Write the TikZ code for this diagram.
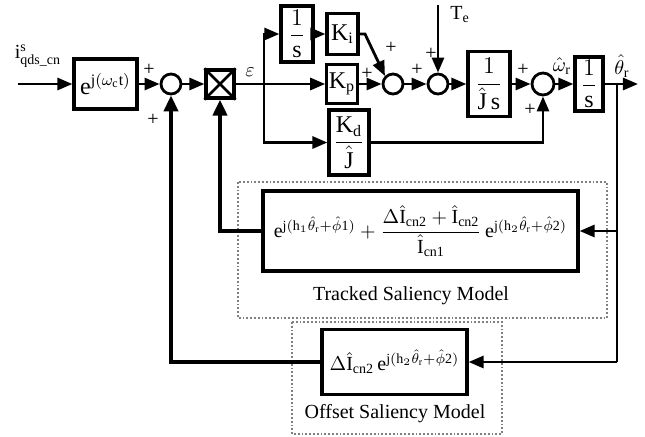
\documentclass[tikz,border=0pt]{standalone}
\usepackage{amsmath}
\usepackage{fontspec}
\setmainfont{Liberation Serif}
\setmathrm{Liberation Serif}
\usetikzlibrary{arrows.meta, positioning}
\tikzset{
  block/.style={draw, line width=1.6pt, inner sep=1pt, font=\large},
  sumnode/.style={circle, draw, line width=1.4pt, minimum size=10pt, inner sep=0pt},
  multnode/.style={draw, line width=1.6pt, minimum size=14pt, inner sep=0pt},
  line/.style={line width=1.4pt},
  sig/.style={line width=1.4pt, -{Triangle[length=7.5pt,width=6pt]}},
  fbline/.style={line width=2.4pt},
  fbsig/.style={line width=2.4pt, -{Triangle[length=8pt,width=7pt]}},
  group/.style={draw=gray, densely dotted, line width=0.9pt},
  sign/.style={font=\normalsize, inner sep=0pt}
}
\begin{document}
\begin{tikzpicture}[x=0.5pt, y=-0.5pt]
    \useasboundingbox (0,0) rectangle (645,436);

    % Forward path
    \coordinate (in) at (18,84);
    \node (rot) [block, minimum width=31.5pt, minimum height=25pt] at (105.5,84) {$\mathrm{e}^{\mathrm{j}(\omega_{\mathrm{c}}\mathrm{t})}$};
    \node (sum1) [sumnode] at (171,84) {};
    \node (mult) [multnode] at (220,84) {};
    \coordinate (split) at (264,84);
    \node (integ) [block, minimum width=16pt, minimum height=28pt] at (297,34) {$\dfrac{1}{\mathrm{s}}$};
    \node (ki) [block, minimum width=15.5pt, minimum height=20.5pt] at (342.5,34) {$\mathrm{K}_{\mathrm{i}}$};
    \coordinate (kibend) at (365,34);
    \node (kp) [block, minimum width=15pt, minimum height=19.5pt] at (342,84) {$\mathrm{K}_{\mathrm{p}}$};
    \node (kd) [block, minimum width=20pt, minimum height=32.5pt] at (349,142.5) {$\dfrac{\mathrm{K}_{\mathrm{d}}}{\hat{\mathrm{J}}}$};
    \node (sum2) [sumnode] at (393,84) {};
    \node (sum3) [sumnode] at (438,84) {};
    \coordinate (te) at (438,5);
    \node (inertia) [block, minimum width=21pt, minimum height=32.5pt] at (489,84) {$\dfrac{1}{\hat{\mathrm{J}}\,\mathrm{s}}$};
    \node (sum4) [sumnode, minimum size=11pt] at (543,84) {};
    \node (integ2) [block, minimum width=14pt, minimum height=27pt] at (589,84) {$\dfrac{1}{\mathrm{s}}$};
    \coordinate (tap) at (617,84);
    \coordinate (out) at (638,84);

    % Saliency models
    \node (track) [block, font=\normalsize, minimum width=157.5pt, minimum height=40pt] at (420.5,231) {$\mathrm{e}^{\mathrm{j}(\mathrm{h}_1\hat{\theta}_{\mathrm{r}}+\hat{\phi}\mathrm{1})}+\dfrac{\Delta\hat{\mathrm{I}}_{\mathrm{cn2}}+\hat{\mathrm{I}}_{\mathrm{cn2}}}{\hat{\mathrm{I}}_{\mathrm{cn1}}}\,\mathrm{e}^{\mathrm{j}(\mathrm{h}_2\hat{\theta}_{\mathrm{r}}+\hat{\phi}\mathrm{2})}$};
    \node (offset) [block, font=\normalsize, minimum width=72.5pt, minimum height=32.5pt] at (394.5,362) {$\Delta\hat{\mathrm{I}}_{\mathrm{cn2}}\,\mathrm{e}^{\mathrm{j}(\mathrm{h}_2\hat{\theta}_{\mathrm{r}}+\hat{\phi}\mathrm{2})}$};
    \coordinate (fbcorner) at (617,362);
    \draw[group] (238,182) rectangle (607,318);
    \draw[group] (292,322) rectangle (502,434);
    \node (tracklabel) at (411,296) {Tracked Saliency Model};
    \node (offsetlabel) at (395,414) {Offset Saliency Model};

    % Connections
    \draw[sig] (in) -- (rot);
    \draw[sig] (rot) -- (sum1);
    \draw[sig] (sum1) -- (mult);
    \draw[line] (mult) -- (split);
    \draw[sig] (split) -- (kp);
    \draw[sig] (split) |- (integ.west);
    \draw[sig] (split) |- (kd.west);
    \draw[sig] (integ) -- (ki);
    \draw[sig] (ki.east) -- (kibend) -- (sum2.north west);
    \draw[sig] (kp) -- (sum2);
    \draw[sig] (sum2) -- (sum3);
    \draw[sig] (te) -- (sum3);
    \draw[sig] (sum3) -- (inertia);
    \draw[sig] (inertia) -- (sum4);
    \draw[sig] (kd.east) -| (sum4.south);
    \draw[sig] (sum4) -- (integ2);
    \draw[sig] (integ2) -- (out);

    % Feedback
    \draw[line] (tap) -- (fbcorner);
    \draw[sig] (tap |- track.east) -- (track.east);
    \draw[sig] (fbcorner) -- (offset.east);
    \draw[fbsig] (track.west) -| (mult.south);
    \draw[fbsig] (offset.west) -| (sum1.south);
    \draw[line width=1.4pt] (mult.north west) -- (mult.south east) (mult.north east) -- (mult.south west);

    % Labels
    \node (inlabel) at (38,56) {$\mathrm{i}^{\mathrm{s}}_{\mathrm{qds\_cn}}$};
    \node (eps) at (250,72) {$\varepsilon$};
    \node (telabel) at (460,15) {$\mathrm{T}_{\mathrm{e}}$};
    \node (wlabel) at (562,66) {$\hat{\omega}_{\mathrm{r}}$};
    \node (thlabel) at (622,66) {$\hat{\theta}_{\mathrm{r}}$};
    \node[sign] at (149,70) {+};
    \node[sign] at (153,120) {+};
    \node[sign] at (367,74) {+};
    \node[sign] at (391,48) {+};
    \node[sign] at (417,70) {+};
    \node[sign] at (431,54) {+};
    \node[sign] at (523,70) {+};
    \node[sign] at (530,110) {+};
\end{tikzpicture}
\end{document}
